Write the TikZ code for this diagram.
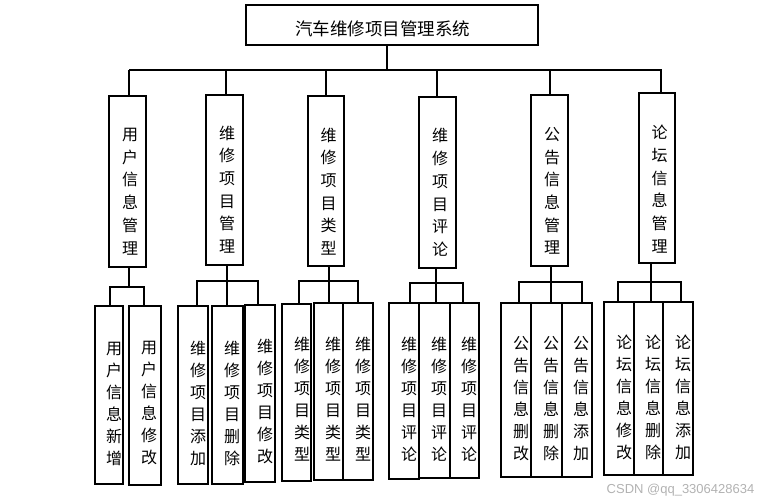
\documentclass[tikz,border=0pt]{standalone}
\usepackage{fontspec}
\newfontfamily\cjk{Noto Sans CJK SC}
\newfontfamily\wmfont{Liberation Sans}
\begin{document}
\begin{tikzpicture}[x=1pt,y=-1pt,
  box/.style={draw=black, line width=1.1pt, inner sep=0pt},
  ttext/.style={inner sep=0pt, font=\cjk\fontsize{17.5}{20}\selectfont},
  vtext/.style={align=center, inner sep=0pt, font=\cjk\fontsize{16}{22.7}\selectfont},
  btext/.style={align=center, inner sep=0pt, font=\cjk\fontsize{16}{22}\selectfont},
  wire/.style={draw=black, line width=1.1pt},
  wm/.style={inner sep=0pt, text=black!30, font=\wmfont\fontsize{13}{15}\selectfont}]
\useasboundingbox (0,0) rectangle (770,503);

% title
\node[box, minimum width=292, minimum height=40] (title) at (392,25) {};
\node[ttext] (titlet) at (382.5,29) {汽车维修项目管理系统};

% middle boxes
\node[box, minimum width=37, minimum height=171] (m1) at (127.5,181.5) {};
\node[box, minimum width=37, minimum height=170] (m2) at (224.5,180) {};
\node[box, minimum width=36, minimum height=170] (m3) at (326,181) {};
\node[box, minimum width=37, minimum height=171] (m4) at (437.5,182.5) {};
\node[box, minimum width=37, minimum height=171] (m5) at (549.5,180.5) {};
\node[box, minimum width=36, minimum height=170] (m6) at (657,178) {};
\node[vtext] (m1t) at (130,191.5) {用\\户\\信\\息\\管\\理};
\node[vtext] (m2t) at (227,189.5) {维\\修\\项\\目\\管\\理};
\node[vtext] (m3t) at (328.5,191.5) {维\\修\\项\\目\\类\\型};
\node[vtext] (m4t) at (440,192.5) {维\\修\\项\\目\\评\\论};
\node[vtext] (m5t) at (552,191) {公\\告\\信\\息\\管\\理};
\node[vtext] (m6t) at (659.5,189) {论\\坛\\信\\息\\管\\理};

% bottom boxes
\node[box, minimum width=28, minimum height=178] (b1a) at (109,395) {};
\node[box, minimum width=32, minimum height=179] (b1b) at (145,395.5) {};
\node[box, minimum width=30, minimum height=178] (b2a) at (193,395) {};
\node[box, minimum width=31, minimum height=178] (b2b) at (227.5,395) {};
\node[box, minimum width=30, minimum height=177] (b2c) at (260,393.5) {};
\node[box, minimum width=29, minimum height=177] (b3a) at (296.5,392.5) {};
\node[box, minimum width=29, minimum height=177] (b3b) at (328.5,391.5) {};
\node[box, minimum width=30, minimum height=177] (b3c) at (358,391.5) {};
\node[box, minimum width=30, minimum height=176] (b4a) at (404,391) {};
\node[box, minimum width=31, minimum height=175] (b4b) at (434.5,390.5) {};
\node[box, minimum width=29, minimum height=175] (b4c) at (464.5,390.5) {};
\node[box, minimum width=30, minimum height=174] (b5a) at (516,390) {};
\node[box, minimum width=31, minimum height=174] (b5b) at (546.5,390) {};
\node[box, minimum width=30, minimum height=174] (b5c) at (577,390) {};
\node[box, minimum width=30, minimum height=173] (b6a) at (619,388.5) {};
\node[box, minimum width=29, minimum height=173] (b6b) at (648.5,388.5) {};
\node[box, minimum width=30, minimum height=173] (b6c) at (678,388.5) {};

\node[btext] (b1at) at (114,403.5) {用\\户\\信\\息\\新\\增};
\node[btext] (b1bt) at (149,403.5) {用\\户\\信\\息\\修\\改};
\node[btext] (b2at) at (198,403.5) {维\\修\\项\\目\\添\\加};
\node[btext] (b2bt) at (232,403.5) {维\\修\\项\\目\\删\\除};
\node[btext] (b2ct) at (265,401.5) {维\\修\\项\\目\\修\\改};
\node[btext] (b3at) at (302,399) {维\\修\\项\\目\\类\\型};
\node[btext] (b3bt) at (333,399) {维\\修\\项\\目\\类\\型};
\node[btext] (b3ct) at (363,399) {维\\修\\项\\目\\类\\型};
\node[btext] (b4at) at (409,399) {维\\修\\项\\目\\评\\论};
\node[btext] (b4bt) at (439,399) {维\\修\\项\\目\\评\\论};
\node[btext] (b4ct) at (469,399) {维\\修\\项\\目\\评\\论};
\node[btext] (b5at) at (521,399) {公\\告\\信\\息\\删\\改};
\node[btext] (b5bt) at (551,399) {公\\告\\信\\息\\删\\除};
\node[btext] (b5ct) at (581,399) {公\\告\\信\\息\\添\\加};
\node[btext] (b6at) at (624,397.5) {论\\坛\\信\\息\\修\\改};
\node[btext] (b6bt) at (653,397.5) {论\\坛\\信\\息\\删\\除};
\node[btext] (b6ct) at (683,397.5) {论\\坛\\信\\息\\添\\加};

% top bus
\coordinate (tstem) at (387,70);
\coordinate (busL) at (129,70);
\coordinate (busR) at (662,70);
\draw[wire] (title.south -| tstem) -- (tstem);
\draw[wire] (busL) -- (busR);
\coordinate (d1) at (129,70);
\coordinate (d2) at (226,70);
\coordinate (d3) at (326,70);
\coordinate (d4) at (437,70);
\coordinate (d5) at (550,70);
\coordinate (d6) at (661,70);
\foreach \k in {1,...,6}{\draw[wire] (d\k) -- (m\k.north -| d\k);}

% group 1
\coordinate (j1) at (129,287);
\coordinate (j1a) at (110,287);
\coordinate (j1b) at (144,287);
\draw[wire] (m1.south -| j1) -- (j1);
\draw[wire] (b1a.north -| j1a) -- (j1a) -- (j1b) -- (b1b.north -| j1b);

% groups 2-6
\coordinate (j2) at (227,281);
\coordinate (j2a) at (197,281);
\coordinate (j2c) at (258,281);
\coordinate (j3) at (329,281);
\coordinate (j3a) at (299,281);
\coordinate (j3c) at (358,281);
\coordinate (j4) at (436,283);
\coordinate (j4a) at (410,283);
\coordinate (j4c) at (463,283);
\coordinate (j5) at (551,282);
\coordinate (j5a) at (519,282);
\coordinate (j5c) at (582,282);
\coordinate (j6) at (651,282);
\coordinate (j6a) at (618,282);
\coordinate (j6c) at (681,282);
\foreach \k in {2,...,6}{
  \draw[wire] (m\k.south -| j\k) -- (b\k b.north -| j\k);
  \draw[wire] (b\k a.north -| j\k a) -- (j\k a) -- (j\k c) -- (b\k c.north -| j\k c);
}

\node[wm] (wmark) at (680.5,490) {CSDN @qq\_3306428634};
\end{tikzpicture}
\end{document}
